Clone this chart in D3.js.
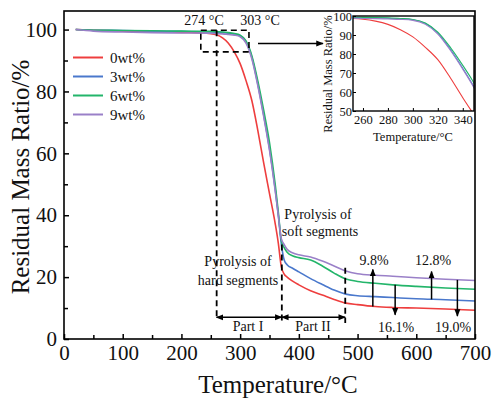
<!DOCTYPE html>
<html lang="en">
<head>
  <meta charset="UTF-8">
  <title>TGA curves</title>
  <style>
    body { margin: 0; background: #fff; }
    svg { display: block; }
    text { font-family: 'Liberation Serif', 'Times New Roman', serif; fill: #111; }
  </style>
</head>
<body>
  <svg width="492" height="402"></svg>
  <script src="https://d3js.org/d3.v7.min.js"></script>
  <script>
    // Data
    const temps = [20, 50, 100, 150, 200, 250, 260, 270, 280, 290, 300, 310, 320, 330, 340, 350, 360, 365, 370, 375, 380, 390, 400, 420, 440, 460, 480, 500, 530, 560, 600, 650, 700];
    const mass0 = [100, 99.8, 99.5, 99.3, 99.1, 98.7, 98.3, 97.3, 95.6, 92.8, 89, 83.5, 77, 67.5, 57, 47, 37, 31, 23.5, 21, 20, 18.6, 17.5, 15.6, 14.2, 12.8, 11.6, 11.1, 10.5, 10.2, 10, 9.7, 9.3];
    const mass3 = [100, 99.8, 99.7, 99.5, 99.4, 99.2, 99.1, 99, 98.8, 98.5, 98, 96, 91, 82.5, 72.5, 61.5, 48, 40, 31, 25.5, 24, 22.8, 21.7, 19.5, 17.6, 15.8, 14.5, 14, 13.7, 13.4, 13, 12.7, 12.3];
    const mass6 = [100, 99.8, 99.7, 99.6, 99.5, 99.4, 99.3, 99.2, 99, 98.7, 98.2, 96.3, 91.5, 83.5, 74, 63.5, 49.5, 41, 32, 29.5, 28, 26.8, 26.3, 25.5, 23.6, 21.3, 19.4, 18.6, 18, 17.5, 17, 16.5, 16.1];
    const mass9 = [100, 99.5, 99.2, 99, 98.9, 98.8, 98.7, 98.6, 98.4, 98.2, 97.7, 95.6, 90.5, 82, 72, 61, 47.5, 40, 32.5, 30.5, 29, 27.8, 27.2, 26.5, 25.2, 23.6, 22, 21.1, 20.6, 20.3, 19.8, 19.3, 18.9];
    const seriesNames = ['0wt%', '3wt%', '6wt%', '9wt%'];
    const seriesColors = ['#ee3e3e', '#4a78cc', '#23b56a', '#9a80c8'];
    const seriesData = [mass0, mass3, mass6, mass9];

    const xTicks = [0, 100, 200, 300, 400, 500, 600, 700];
    const yTicks = [0, 20, 40, 60, 80, 100];
    const insetXTicks = [260, 280, 300, 320, 340];
    const insetYTicks = [50, 60, 70, 80, 90, 100];

    const svg = d3.select('svg');
    const font = "'Liberation Serif', 'Times New Roman', serif";

    // arrow head
    svg.append('defs').append('marker')
      .attr('id', 'head')
      .attr('viewBox', '0 0 10 10')
      .attr('refX', 9).attr('refY', 5)
      .attr('markerWidth', 5).attr('markerHeight', 5)
      .attr('orient', 'auto-start-reverse')
      .attr('markerUnits', 'strokeWidth')
      .append('path').attr('d', 'M0,1 L10,5 L0,9 Z').attr('fill', '#000');

    // Main scales
    const x = d3.scaleLinear().domain([0, 700]).range([64, 475]);
    const y = d3.scaleLinear().domain([0, 106]).range([339, 11]);

    const line = d3.line()
      .x((d, i) => x(temps[i]))
      .y(d => y(d))
      .curve(d3.curveMonotoneX);

    // curves
    seriesData.forEach((s, k) => {
      svg.append('path')
        .attr('d', line(s))
        .attr('fill', 'none')
        .attr('stroke', seriesColors[k])
        .attr('stroke-width', 1.6);
    });

    // axes
    const xAxis = svg.append('g')
      .attr('transform', `translate(0,${y(0)})`)
      .call(d3.axisBottom(x).tickValues(xTicks).tickSize(-5).tickPadding(6));
    xAxis.selectAll('text').attr('font-size', 21).attr('font-family', font).attr('fill', '#111');
    svg.append('g')
      .attr('transform', `translate(0,${y(0)})`)
      .call(d3.axisBottom(x).tickValues(d3.range(50, 700, 100)).tickSize(-4).tickFormat(''));

    const yAxis = svg.append('g')
      .attr('transform', `translate(${x(0)},0)`)
      .call(d3.axisLeft(y).tickValues(yTicks).tickSize(-5).tickPadding(7));
    yAxis.selectAll('text').attr('font-size', 21).attr('font-family', font).attr('fill', '#111');
    svg.append('g')
      .attr('transform', `translate(${x(0)},0)`)
      .call(d3.axisLeft(y).tickValues(d3.range(10, 106, 20)).tickSize(-4).tickFormat(''));

    svg.selectAll('.domain').remove();
    svg.selectAll('.tick line').attr('stroke', '#000').attr('stroke-width', 1.5);

    // frame
    svg.append('rect')
      .attr('x', x(0)).attr('y', y(106))
      .attr('width', x(700) - x(0)).attr('height', y(0) - y(106))
      .attr('fill', 'none').attr('stroke', '#000').attr('stroke-width', 1.6);

    // axis titles
    svg.append('text')
      .attr('x', 278).attr('y', 393)
      .attr('text-anchor', 'middle').attr('font-size', 25)
      .text('Temperature/°C');
    svg.append('text')
      .attr('transform', 'translate(29,177) rotate(-90)')
      .attr('text-anchor', 'middle').attr('font-size', 25)
      .text('Residual Mass Ratio/%');

    // legend
    seriesNames.forEach((n, k) => {
      const ly = 57.5 + k * 19;
      svg.append('line')
        .attr('x1', 73).attr('x2', 103).attr('y1', ly).attr('y2', ly)
        .attr('stroke', seriesColors[k]).attr('stroke-width', 2);
      svg.append('text')
        .attr('x', 110).attr('y', ly + 5)
        .attr('font-size', 15)
        .text(n);
    });

    // dashed annotations
    const dash = (x1, y1, x2, y2) => svg.append('line')
      .attr('x1', x1).attr('y1', y1).attr('x2', x2).attr('y2', y2)
      .attr('stroke', '#000').attr('stroke-width', 1.8)
      .attr('stroke-dasharray', '6,4');

    // zoom box
    svg.append('rect')
      .attr('x', x(233)).attr('y', y(99.8))
      .attr('width', x(315) - x(233)).attr('height', y(92.8) - y(99.8))
      .attr('fill', 'none').attr('stroke', '#000').attr('stroke-width', 1.6)
      .attr('stroke-dasharray', '6,4');
    dash(x(260), y(99.8), x(260), y(7));
    dash(x(371), y(30.5), x(371), y(5.5));
    dash(x(479), y(23), x(479), y(5.2));

    // Part I / Part II arrows
    const solidArrow = (x1, y1, x2, y2, both) => {
      const l = svg.append('line')
        .attr('x1', x1).attr('y1', y1).attr('x2', x2).attr('y2', y2)
        .attr('stroke', '#000').attr('stroke-width', 1.5)
        .attr('marker-end', 'url(#head)');
      if (both) l.attr('marker-start', 'url(#head)');
      return l;
    };
    solidArrow(x(260), y(7), x(371), y(7), true);
    solidArrow(x(371), y(7), x(479), y(7), true);
    svg.append('text').attr('x', 248).attr('y', 331).attr('text-anchor', 'middle').attr('font-size', 14).text('Part I');
    svg.append('text').attr('x', 313).attr('y', 331).attr('text-anchor', 'middle').attr('font-size', 14).text('Part II');

    // arrow from box to inset
    solidArrow(258, 43.5, 323, 43.5, false);

    // labels
    const label = (tx, ty, s) => svg.append('text')
      .attr('x', tx).attr('y', ty).attr('text-anchor', 'middle')
      .attr('font-size', 14).text(s);
    label(204, 25, '274 °C');
    label(260, 25, '303 °C');
    label(238, 266, 'Pyrolysis of');
    label(238, 285, 'hard segments');
    label(318, 219, 'Pyrolysis of');
    label(320, 236, 'soft segments');
    label(374, 265, '9.8%');
    label(433, 265, '12.8%');
    label(396, 332, '16.1%');
    label(453, 332, '19.0%');

    // difference arrows
    solidArrow(x(526), y(10.5), x(526), y(22.5), false);
    solidArrow(x(626), y(12.8), x(626), y(21.8), false);
    solidArrow(x(564), y(17.5), x(564), y(7.8), false);
    solidArrow(x(670), y(19.1), x(670), y(7.4), false);

    // Inset
    const xi = d3.scaleLinear().domain([252, 349]).range([353, 474]);
    const yi = d3.scaleLinear().domain([50, 100]).range([111, 16]);
    const inset = svg.append('g');
    inset.append('rect')
      .attr('x', xi(252)).attr('y', yi(100))
      .attr('width', xi(349) - xi(252)).attr('height', yi(50) - yi(100))
      .attr('fill', '#fff');
    svg.select('defs').append('clipPath').attr('id', 'clipInset')
      .append('rect')
      .attr('x', xi(252)).attr('y', yi(100.6))
      .attr('width', xi(349) - xi(252)).attr('height', yi(50) - yi(100.6));

    const lineInset = d3.line()
      .x((d, i) => xi(temps[i]))
      .y(d => yi(d))
      .curve(d3.curveMonotoneX);
    const curves = inset.append('g').attr('clip-path', 'url(#clipInset)');
    seriesData.forEach((s, k) => {
      curves.append('path')
        .attr('d', lineInset(s))
        .attr('fill', 'none')
        .attr('stroke', seriesColors[k])
        .attr('stroke-width', 1.1);
    });

    const ixAxis = inset.append('g')
      .attr('transform', `translate(0,${yi(50)})`)
      .call(d3.axisBottom(xi).tickValues(insetXTicks).tickSize(-3).tickPadding(4));
    ixAxis.selectAll('text').attr('font-size', 12.5).attr('font-family', font).attr('fill', '#111');
    const iyAxis = inset.append('g')
      .attr('transform', `translate(${xi(252)},0)`)
      .call(d3.axisLeft(yi).tickValues(insetYTicks).tickSize(-3).tickPadding(1));
    iyAxis.selectAll('text').attr('font-size', 12.5).attr('font-family', font).attr('fill', '#111');
    inset.selectAll('.domain').remove();
    inset.selectAll('.tick line').attr('stroke', '#000').attr('stroke-width', 1);

    inset.append('rect')
      .attr('x', xi(252)).attr('y', yi(100))
      .attr('width', xi(349) - xi(252)).attr('height', yi(50) - yi(100))
      .attr('fill', 'none').attr('stroke', '#000').attr('stroke-width', 1.4);

    inset.append('text')
      .attr('x', 413).attr('y', 141)
      .attr('text-anchor', 'middle').attr('font-size', 12.5)
      .text('Temperature/°C');
    inset.append('text')
      .attr('transform', 'translate(332,74) rotate(-90)')
      .attr('text-anchor', 'middle').attr('font-size', 12.5)
      .text('Residual Mass Ratio/%');
  </script>
</body>
</html>
